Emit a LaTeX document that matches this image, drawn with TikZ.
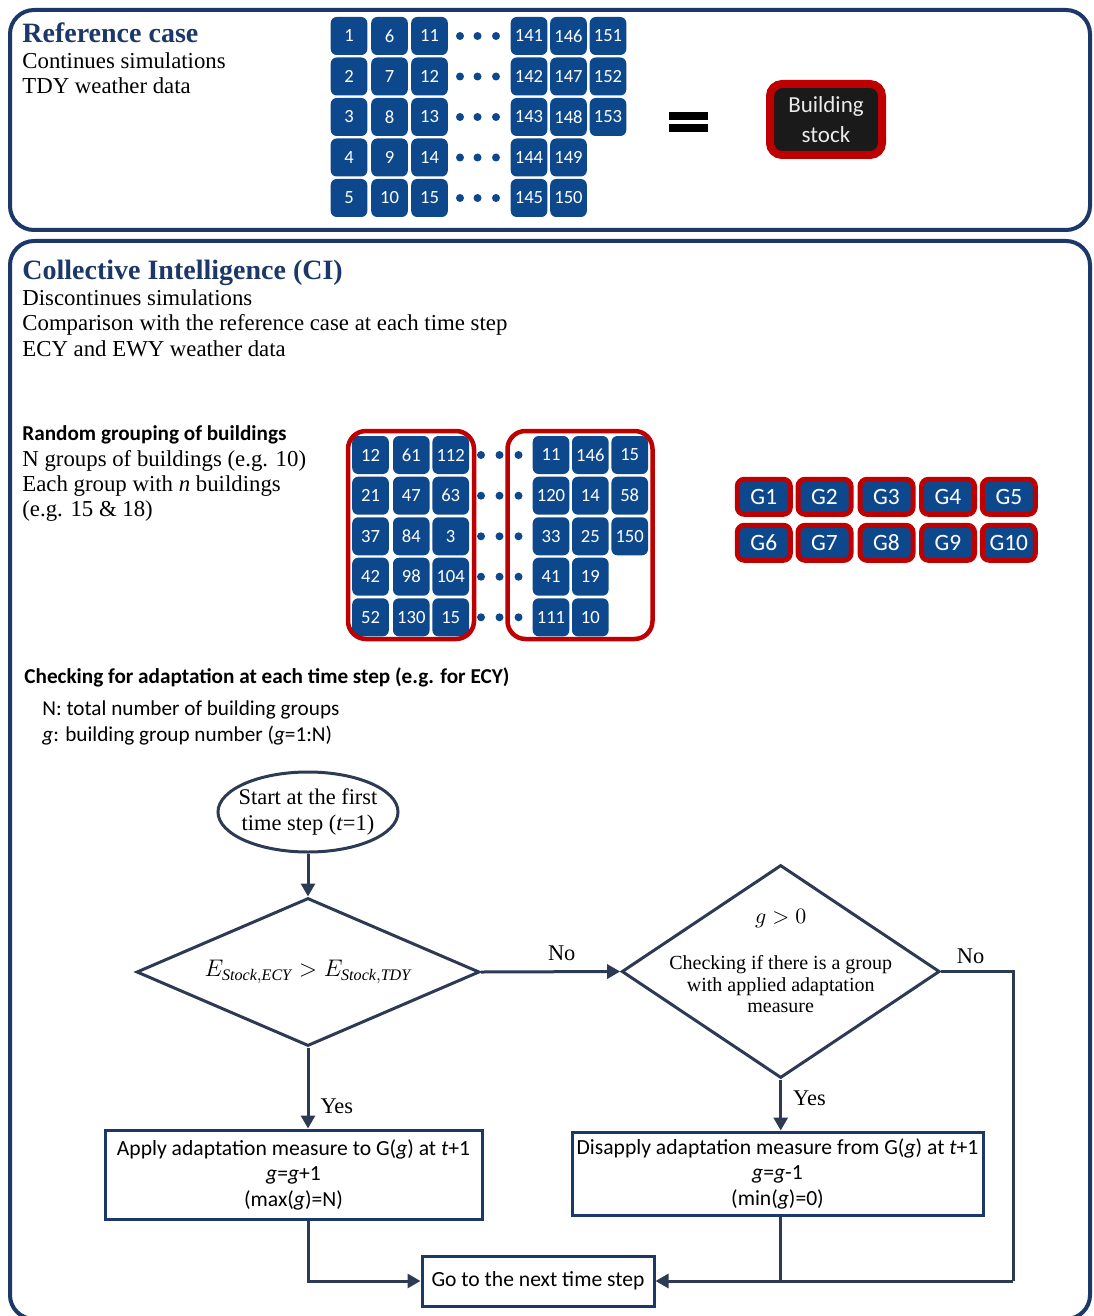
\documentclass[tikz,border=0pt]{standalone}
\usepackage{fontspec}
\setmainfont{Liberation Serif}
\newfontfamily\carl{Carlito}
\usetikzlibrary{shapes.geometric,arrows.meta}
\definecolor{navy}{RGB}{28,56,104}
\definecolor{bblue}{RGB}{14,72,140}
\definecolor{bred}{RGB}{190,0,0}
\definecolor{lineblue}{RGB}{45,58,83}
\definecolor{stockbg}{RGB}{26,26,26}
\begin{document}
\begin{tikzpicture}[x=0.5pt,y=-0.5pt,
  panel/.style={draw=navy,line width=2pt,rounded corners=12pt},
  bld/.style={fill=bblue,draw=none,rounded corners=3pt,minimum width=18.3pt,minimum height=19pt,inner sep=0,text=white,font=\carl\fontsize{9.3}{10}\selectfont},
  bdot/.style={fill=bblue},
  grp/.style={draw=bred,line width=2.25pt,rounded corners=9pt},
  gbox/.style={fill=bblue,draw=bred,line width=2.5pt,rounded corners=3.5pt,minimum width=26.5pt,minimum height=17.5pt,inner sep=0,text=white,font=\carl\fontsize{11.7}{12}\selectfont},
  stock/.style={fill=stockbg,draw=bred,line width=4pt,rounded corners=6pt,minimum width=56pt,minimum height=35.5pt,inner sep=0,text=white!92!black,align=center,font=\carl\fontsize{11.5}{15}\selectfont},
  ttl/.style={anchor=base west,inner sep=0,text=navy,font=\bfseries\fontsize{14}{16}\selectfont},
  tx/.style={anchor=base west,inner sep=0,font=\fontsize{11.4}{12}\selectfont},
  sbold/.style={anchor=base west,inner sep=0,font=\carl\bfseries\fontsize{10.6}{12}\selectfont},
  sreg/.style={anchor=base west,inner sep=0,font=\carl\fontsize{10.6}{12}\selectfont},
  fbox/.style={draw=navy,line width=1.5pt,align=center,inner sep=0,font=\carl\fontsize{10.8}{12.75}\selectfont},
  dia/.style={diamond,draw=lineblue,line width=1.5pt,inner sep=0,aspect=2},
  conn/.style={draw=lineblue,line width=1.5pt},
  arr/.style={conn,-{Triangle[length=6.5pt,width=7pt]}},
  lab/.style={inner sep=2pt,font=\fontsize{11.2}{12}\selectfont}
]
\useasboundingbox (0,0) rectangle (1093,1316);
\clip (0,0) rectangle (1093,1316);

% panels
\draw[panel] (10,10) rectangle (1090,230);
\draw[panel] (10,241) rectangle (1090,1319);

% reference case text
\node[ttl] (reft) at (22,43) {Reference case};
\node[tx] (ref1) at (22,69) {Continues simulations};
\node[tx] (ref2) at (22,94) {TDY weather data};

% top grid
\foreach \x/\s [count=\c] in {349/0,389.5/5,429.5/10,529/140,568.5/145}{
  \foreach \y [count=\r] in {36,76.5,117,157.5,198}{
    \pgfmathtruncatemacro{\n}{\s+\r}
    \node[bld] (ra-\c-\r) at (\x,\y) {\n};
  }
}
\foreach \y [count=\r] in {36,76.5,117}{
  \pgfmathtruncatemacro{\n}{150+\r}
  \node[bld] (ra-6-\r) at (608,\y) {\n};
}
\foreach \y in {36,76.5,117,157.5,198}{
  \foreach \x in {460,477.5,496}{
    \fill[bdot] (\x,\y) circle (2pt);
  }
}

% equals sign
\fill[black] (669,112) rectangle (708,120);
\fill[black] (669,124.5) rectangle (708,132.5);

% building stock
\node[stock] (stock) at (826,119.5) {Building\\stock};

% CI text
\node[ttl] (cit) at (22,279) {Collective Intelligence (CI)};
\node[tx] (ci1) at (22,305) {Discontinues simulations};
\node[tx] (ci2) at (22,330.5) {Comparison with the reference case at each time step};
\node[tx] (ci3) at (22,356) {ECY and EWY weather data};

\node[sbold] (rg) at (22,440) {Random grouping of buildings};
\node[tx] (rg1) at (22,466) {N groups of buildings (e.g. 10)};
\node[tx] (rg2) at (22,491) {Each group with \textit{n} buildings};
\node[tx] (rg3) at (22,516) {(e.g. 15 \& 18)};

% CI grid
\foreach \y/\a/\b/\c [count=\r] in {455/12/61/112,495.7/21/47/63,536.3/37/84/3,576.7/42/98/104,617.3/52/130/15}{
  \node[bld] (la-\r) at (370.5,\y) {\a};
  \node[bld] (lb-\r) at (411.3,\y) {\b};
  \node[bld] (lc-\r) at (450.7,\y) {\c};
}
\foreach \y/\a/\b/\c [count=\r] in {455/11/146/15,495.7/120/14/58,536.3/33/25/150}{
  \node[bld] (rx-\r) at (551,\y) {\a};
  \node[bld] (ry-\r) at (590.3,\y) {\b};
  \node[bld] (rz-\r) at (629.7,\y) {\c};
}
\foreach \y/\a/\b [count=\r from 4] in {576.7/41/19,617.3/111/10}{
  \node[bld] (rx-\r) at (551,\y) {\a};
  \node[bld] (ry-\r) at (590.3,\y) {\b};
}
\draw[grp] (348,431) rectangle (474,639);
\draw[grp] (507.5,431) rectangle (652.5,639);
\foreach \y in {455,495.7,536.3,576.7,617.3}{
  \foreach \x in {481,499.5,518.5}{
    \fill[bdot] (\x,\y) circle (2pt);
  }
}

% groups
\foreach \x [count=\i] in {763.8,824.5,886.5,948,1008.8}{
  \node[gbox] (g\i) at (\x,496.8) {G\i};
}
\foreach \x [count=\i from 6] in {763.8,824.5,886.5,948,1008.8}{
  \node[gbox] (g\i) at (\x,542.8) {G\i};
}

% checking text
\node[sbold] (chk) at (24,683) {Checking for adaptation at each time step (e.g. for ECY)};
\node[sreg] (chk1) at (42,715) {N: total number of building groups};
\node[sreg] (chk2) at (42,741) {\textit{g}: building group number (\textit{g}=1:N)};

% flowchart
\node[ellipse,draw=lineblue,line width=1.5pt,minimum width=90pt,minimum height=40pt,inner sep=0] (e) at (308,812) {};
\node[align=center,inner sep=0,font=\fontsize{11.2}{13}\selectfont] (et) at (e.center) {Start at the first\\time step (\textit{t}=1)};

\node[dia,minimum width=171.5pt,minimum height=74pt,font=\fontsize{11.5}{12}\selectfont] (d1) at (308,972) {$E_{\mathit{Stock,ECY}} > E_{\mathit{Stock,TDY}}$};

\node[dia,minimum width=159pt,minimum height=106.5pt] (d2) at (780.7,971.5) {};
\node[align=center,inner sep=0,font=\fontsize{10}{10.75}\selectfont] (d2t) at ([yshift=5.25pt]d2.center) {{\fontsize{11}{12}\selectfont$g > 0$}\\[12.5pt]Checking if there is a group\\with applied adaptation\\measure};

\node[fbox,minimum width=188.5pt,minimum height=44.5pt] (b1) at (293.5,1174.5) {Apply adaptation measure to G(\textit{g}) at \textit{t}+1\\\textit{g}=\textit{g}+1\\(max(\textit{g})=N)};
\node[fbox,minimum width=205.5pt,minimum height=41.5pt] (b2) at (777.5,1173.5) {Disapply adaptation measure from G(\textit{g}) at \textit{t}+1\\\textit{g}=\textit{g}-1\\(min(\textit{g})=0)};
\node[fbox,minimum width=116pt,minimum height=25pt] (b3) at (538,1281) {Go to the next time step};

\coordinate (cr1) at (1013,971.5);
\coordinate (cr2) at (1013,1281);

\draw[arr] (e.south) -- (d1.north);
\draw[arr] (d1.east) -- node[lab,above=3pt,pos=0.58] (no1) {No} (d2.west);
\draw[arr] (d1.south) -- node[lab,right=3.5pt,pos=0.73] (yes1) {Yes} (d1.south |- b1.north);
\draw[arr] (d2.south) -- node[lab,right=3.5pt,pos=0.36] (yes2) {Yes} (d2.south |- b2.north);
\draw[conn] (d2.east) -- node[lab,above=1pt,pos=0.41] (no2) {No} (cr1) -- (cr2);
\draw[arr] (cr2) -- (b3.east);
\draw[arr] (d1.south |- b1.south) |- (b3.west);
\draw[conn] (d2.south |- b2.south) -- (d2.south |- b3.east);
\end{tikzpicture}
\end{document}
